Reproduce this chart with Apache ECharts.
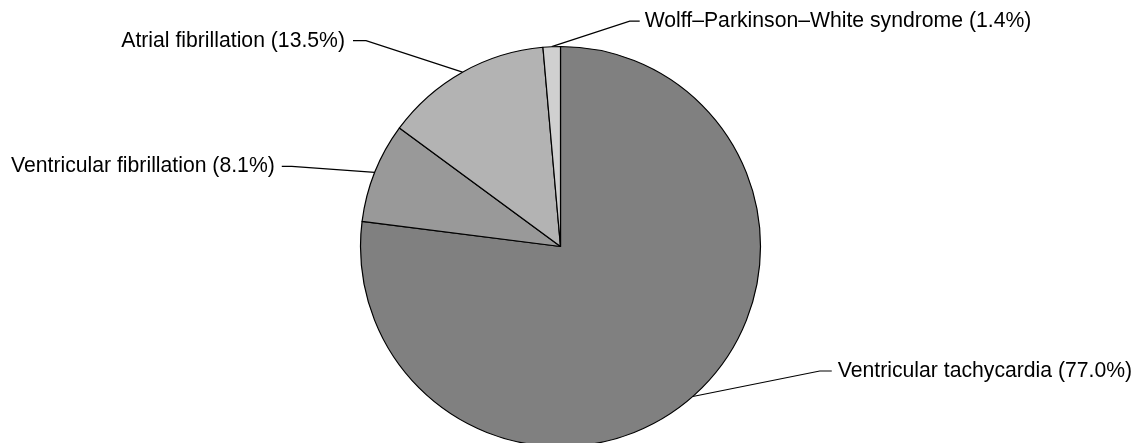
<!DOCTYPE html>
<html>
<head>
<meta charset="utf-8">
<script src="https://cdn.jsdelivr.net/npm/echarts@6/dist/echarts.min.js"></script>
<style>
html,body{margin:0;padding:0;background:#fff;}
#chart{width:1135px;height:443px;}
</style>
</head>
<body>
<div id="chart"></div>
<script>
var categories = ['Ventricular tachycardia', 'Ventricular fibrillation', 'Atrial fibrillation', 'Wolff\u2013Parkinson\u2013White syndrome'];
var values = [77.0, 8.1, 13.5, 1.4];
var colors = ['#808080', '#999999', '#b3b3b3', '#d0d0d0'];

// label placement relative to the slice's outer anchor point: [dx, dy, side, gap, horizontalSegment]
var labelPlacement = [
  [145, -25.5, 1, 6, 12],
  [-100, -6, -1, 7, 10],
  [-117.5, -31.5, -1, 8, 13],
  [93, -25.5, 1, 5, 10]
];

var chart = echarts.init(document.getElementById('chart'));
chart.setOption({
  animation: false,
  series: [{
    type: 'pie',
    center: [560.5, 246.5],
    radius: 200,
    startAngle: 90,
    clockwise: true,
    avoidLabelOverlap: false,
    silent: true,
    emphasis: {disabled: true},
    data: categories.map(function (c, i) {
      return {name: c, value: values[i], itemStyle: {color: colors[i]}};
    }),
    itemStyle: {borderColor: '#000', borderWidth: 1.2},
    label: {
      show: true,
      position: 'outside',
      color: '#000',
      fontFamily: 'Liberation Sans, Arial, sans-serif',
      fontSize: 21.2,
      formatter: function (p) { return p.name + ' (' + p.value.toFixed(1) + '%)'; }
    },
    labelLine: {show: true, length: 20, length2: 10, lineStyle: {color: '#000', width: 1.2}},
    labelLayout: function (params) {
      var pts = params.labelLinePoints;
      if (!pts || !pts[0]) return {};
      var pl = labelPlacement[params.dataIndex];
      var p0 = pts[0];
      var x = p0[0] + pl[0];
      var y = p0[1] + pl[1];
      var s = pl[2];
      var end = x - s * pl[3];
      var elbow = end - s * pl[4];
      return {
        x: x,
        y: y,
        align: s > 0 ? 'left' : 'right',
        verticalAlign: 'middle',
        labelLinePoints: [[p0[0], p0[1]], [elbow, y], [end, y]]
      };
    }
  }]
});
</script>
</body>
</html>
